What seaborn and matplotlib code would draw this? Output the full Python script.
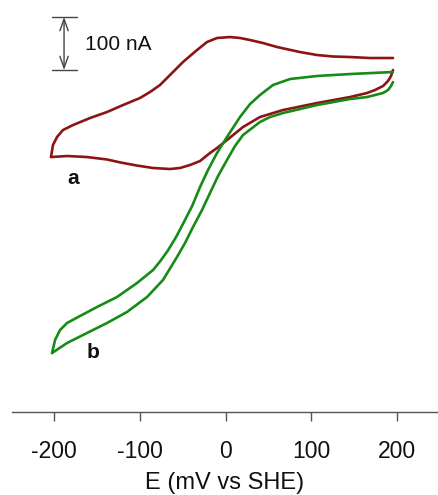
import numpy as np
import pandas as pd
import matplotlib
matplotlib.use("Agg")
import matplotlib.pyplot as plt
import seaborn as sns

# ---- data (E in mV vs SHE, I in nA, arbitrary common offset) ----
a_fwd_E = [-203.5, -201.2, -196.5, -189.5, -177.8, -158.0, -138.2, -119.5, -99.7, -88.0,
           -76.4, -64.7, -49.6, -33.2, -21.6, -9.9, 5.2, 16.9, 28.6, 43.7, 60.1, 86.9,
           106.7, 125.4, 145.2, 168.5, 195.3]
a_fwd_I = [481.1, 503.8, 518.9, 532.1, 541.5, 554.7, 566.0, 579.2, 592.5, 603.8,
           617.0, 635.9, 660.4, 683.0, 698.1, 705.7, 707.5, 705.7, 701.9, 696.2, 688.7, 679.2,
           673.6, 670.8, 669.8, 667.9, 667.9]

a_rev_E = [195.3, 193.0, 189.5, 183.7, 174.3, 165.0, 145.2, 106.7, 67.1, 40.2, 20.4, 1.7,
           -9.9, -18.1, -29.7, -41.4, -53.1, -64.7, -84.5, -103.2, -123.0, -138.2, -161.5,
           -184.8, -203.5]
a_rev_I = [645.3, 634.0, 624.5, 615.1, 607.5, 601.9, 594.3, 583.0, 569.8, 556.6, 537.7, 513.2,
           498.1, 488.7, 473.6, 466.0, 460.4, 458.5, 460.4, 465.0, 471.0, 476.5, 481.1,
           483.0, 481.1]

b_fwd_E = [-202.3, -198.8, -193.0, -184.8, -169.7, -149.9, -126.5, -103.2, -84.5, -76.4,
           -67.1, -57.7, -49.6, -39.1, -29.7, -20.4, -9.9, 1.7, 16.9, 28.6, 40.2, 55.4,
           75.2, 106.7, 145.2, 195.3]
b_fwd_I = [111.3, 135.8, 154.7, 167.9, 181.1, 198.1, 217.0, 243.4, 267.9, 284.0,
           305.0, 330.0, 355.0, 388.0, 424.5, 456.6, 488.7, 518.9, 556.6, 581.1, 598.1, 617.0,
           628.3, 634.0, 637.7, 641.5]

b_rev_E = [195.3, 193.0, 189.5, 183.7, 165.0, 145.2, 106.7, 67.1, 51.9, 40.2, 20.4, 11.1,
           1.7, -8.7, -18.1, -27.4, -37.9, -47.2, -56.6, -72.9, -91.5, -114.9, -138.2,
           -161.5, -184.8, -202.3]
b_rev_I = [622.6, 615.1, 607.5, 601.9, 594.3, 590.6, 579.2, 564.2, 556.6, 547.2, 522.6, 501.9,
           475.5, 445.3, 413.2, 381.1, 349.1, 318.9, 292.5, 249.1, 217.0, 188.7, 167.9,
           149.1, 130.2, 111.3]

x_ticks = [-200, -100, 0, 100, 200]
x_label = "E (mV vs SHE)"
scale_nA = 100

frames = []
for name, E, I in [("a_fwd", a_fwd_E, a_fwd_I), ("a_rev", a_rev_E, a_rev_I),
                   ("b_fwd", b_fwd_E, b_fwd_I), ("b_rev", b_rev_E, b_rev_I)]:
    frames.append(pd.DataFrame({"E": E, "I": I, "branch": name}))
df = pd.concat(frames, ignore_index=True)

red = "#8c1414"
green = "#168c16"
palette = {"a_fwd": red, "a_rev": red, "b_fwd": green, "b_rev": green}

sns.set_theme(style="white")
plt.rcParams["font.family"] = ["Liberation Sans", "DejaVu Sans"]

fig = plt.figure(figsize=(4.38, 4.95), dpi=100)
ax = fig.add_axes([12 / 438, 83 / 495, 426 / 438, 412 / 495])

sns.lineplot(data=df, x="E", y="I", hue="branch", palette=palette, sort=False,
             estimator=None, units="branch", legend=False, linewidth=1.9, ax=ax)
for ln in ax.lines:
    ln.set_solid_joinstyle("round")
    ln.set_solid_capstyle("round")

ax.set_xlim(-249, 247.8)
ax.set_ylim(0, 777.4)

for s in ["left", "top", "right"]:
    ax.spines[s].set_visible(False)
ax.spines["bottom"].set_color("#555555")
ax.spines["bottom"].set_linewidth(1.0)
ax.set_yticks([])
ax.set_xticks(x_ticks)
ax.set_xticklabels([str(t) for t in x_ticks])
ax.tick_params(axis="x", direction="out", length=6.5, width=1.0, color="#555555",
               bottom=True, pad=13.5, labelsize=16.5, labelcolor="#111111")
ax.set_xlabel(x_label, fontsize=17, color="#111111", labelpad=6.5)
ax.set_ylabel("")

# scale bar
sb_x = -188.3
sb_top = 745.3
sb_bot = sb_top - scale_nA
ax.plot([-202.3, -173.2], [sb_top, sb_top], color="#444444", lw=1.0)
ax.plot([-202.3, -173.2], [sb_bot, sb_bot], color="#444444", lw=1.0)
ax.annotate("", xy=(sb_x, sb_top), xytext=(sb_x, sb_bot),
            arrowprops=dict(arrowstyle="<->,head_length=0.7,head_width=0.25",
                            color="#444444", lw=1.0, shrinkA=0, shrinkB=0))
ax.text(-163.8, 692.5, f"{scale_nA} nA", fontsize=15, va="center", ha="left", color="#111111")

ax.text(-178, 441, "a", fontsize=15, fontweight="bold", ha="center", va="center", color="#111111")
ax.text(-155, 113, "b", fontsize=15, fontweight="bold", ha="center", va="center", color="#111111")

fig.savefig("out.png", dpi=100)
